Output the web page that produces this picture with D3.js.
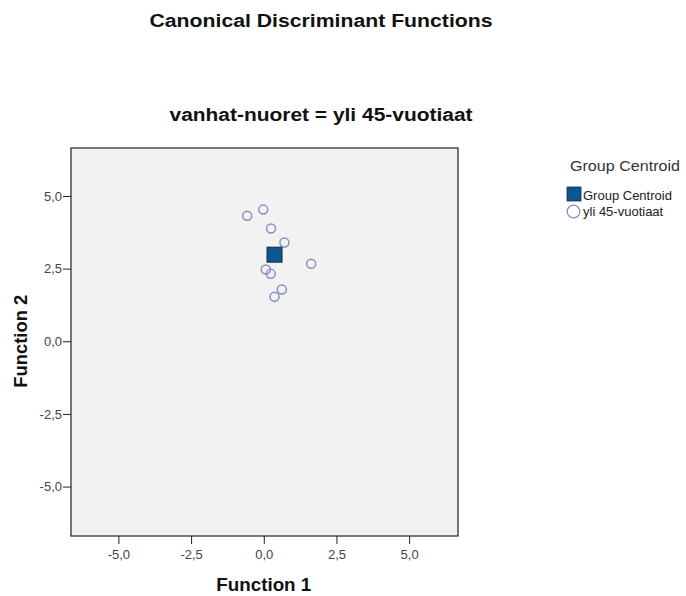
<!DOCTYPE html>
<html>
<head>
<meta charset="utf-8">
<script src="https://cdn.jsdelivr.net/npm/d3@7"></script>
<style>
  body { margin: 0; background: #fff; }
  text { font-family: "Liberation Sans", Arial, sans-serif; }
</style>
</head>
<body>
<script>
// case scores on the two discriminant functions
var f1Scores = [-0.57, -0.02, 0.25, 0.71, 1.63, 0.07, 0.24, 0.62, 0.37];
var f2Scores = [4.32, 4.53, 3.88, 3.40, 2.67, 2.47, 2.32, 1.78, 1.53];
var centroid = [0.37, 2.98];
var tickVals = [-5, -2.5, 0, 2.5, 5];
var legendLabels = ["Group Centroid", "yli 45-vuotiaat"];

var width = 686, height = 596;
var plotLeft = 71, plotTop = 148, plotRight = 458, plotBottom = 536;

var svg = d3.select("body").append("svg")
    .attr("width", width)
    .attr("height", height);

var x = d3.scaleLinear().domain([-6.63, 6.68]).range([plotLeft, plotRight]);
var y = d3.scaleLinear().domain([-6.7, 6.65]).range([plotBottom, plotTop]);

// SPSS style: comma decimal, plain hyphen minus
var fmt = function(d){ return d3.format(".1f")(d).replace(".", ",").replace("\u2212", "-"); };

// bold label, stretched a bit wide like the original export
var boldText = function(g, str, len){
    return g.append("text")
        .attr("text-anchor", "middle")
        .attr("textLength", len)
        .attr("lengthAdjust", "spacingAndGlyphs")
        .style("font-size", "18px").style("font-weight", "bold")
        .style("fill", "#111")
        .text(str);
};

// titles
boldText(svg, "Canonical Discriminant Functions", 343).attr("x", 321).attr("y", 27);
boldText(svg, "vanhat-nuoret = yli 45-vuotiaat", 303).attr("x", 321).attr("y", 121);

// plot background
svg.append("rect")
    .attr("x", plotLeft).attr("y", plotTop)
    .attr("width", plotRight - plotLeft).attr("height", plotBottom - plotTop)
    .style("fill", "#f2f2f2")
    .style("stroke", "#222").style("stroke-width", 1.2);

// axes
var xAxis = svg.append("g")
    .attr("transform", "translate(0," + plotBottom + ")")
    .call(d3.axisBottom(x).tickValues(tickVals).tickFormat(fmt).tickSize(8).tickSizeOuter(0));
var yAxis = svg.append("g")
    .attr("transform", "translate(" + plotLeft + ",0)")
    .call(d3.axisLeft(y).tickValues(tickVals).tickFormat(fmt).tickSize(8).tickSizeOuter(0));
[xAxis, yAxis].forEach(function(a){
    a.select(".domain").remove();
    a.selectAll("line").style("stroke", "#222");
    a.selectAll("text")
     .style("font-size", "13px")
     .style("fill", "#444")
     .style("font-family", "Liberation Sans, Arial, sans-serif");
});
xAxis.selectAll("text").attr("y", 23).attr("dy", 0);
yAxis.selectAll("text").attr("x", -9);

// axis titles
boldText(svg, "Function 1", 95).attr("x", x(0)).attr("y", 591);
boldText(svg, "Function 2", 93)
    .attr("transform", "translate(27," + y(0) + ") rotate(-90)");

// points
svg.append("g").selectAll("circle")
    .data(d3.range(f1Scores.length))
    .enter().append("circle")
    .attr("cx", function(i){ return x(f1Scores[i]); })
    .attr("cy", function(i){ return y(f2Scores[i]); })
    .attr("r", 4.5)
    .style("fill", "none")
    .style("stroke", "#8790c6")
    .style("stroke-width", 1.5);

// centroid
svg.append("rect")
    .attr("x", x(centroid[0]) - 7.5).attr("y", y(centroid[1]) - 7.5)
    .attr("width", 15).attr("height", 15)
    .style("fill", "#0b5794")
    .style("stroke", "#1a2a3a").style("stroke-width", 1);

// legend
var lg = svg.append("g").attr("transform", "translate(567,0)");
lg.append("text")
    .attr("x", 3).attr("y", 171)
    .attr("textLength", 110).attr("lengthAdjust", "spacingAndGlyphs")
    .style("font-size", "15px").style("fill", "#333")
    .text("Group Centroid");
lg.append("rect")
    .attr("x", 0).attr("y", 187).attr("width", 14).attr("height", 14)
    .style("fill", "#0b5794").style("stroke", "#1a2a3a").style("stroke-width", 0.8);
lg.append("circle")
    .attr("cx", 6.5).attr("cy", 211.5).attr("r", 6.3)
    .style("fill", "none").style("stroke", "#8790c6").style("stroke-width", 1.3);
lg.selectAll("text.item")
    .data(legendLabels)
    .enter().append("text")
    .attr("class", "item")
    .attr("x", 22)
    .attr("y", function(d, i){ return 200 + i * 15.5; })
    .style("font-size", "13px").style("fill", "#222")
    .text(function(d){ return d; });
lg.selectAll("text.item").attr("x", 16);
</script>
</body>
</html>
